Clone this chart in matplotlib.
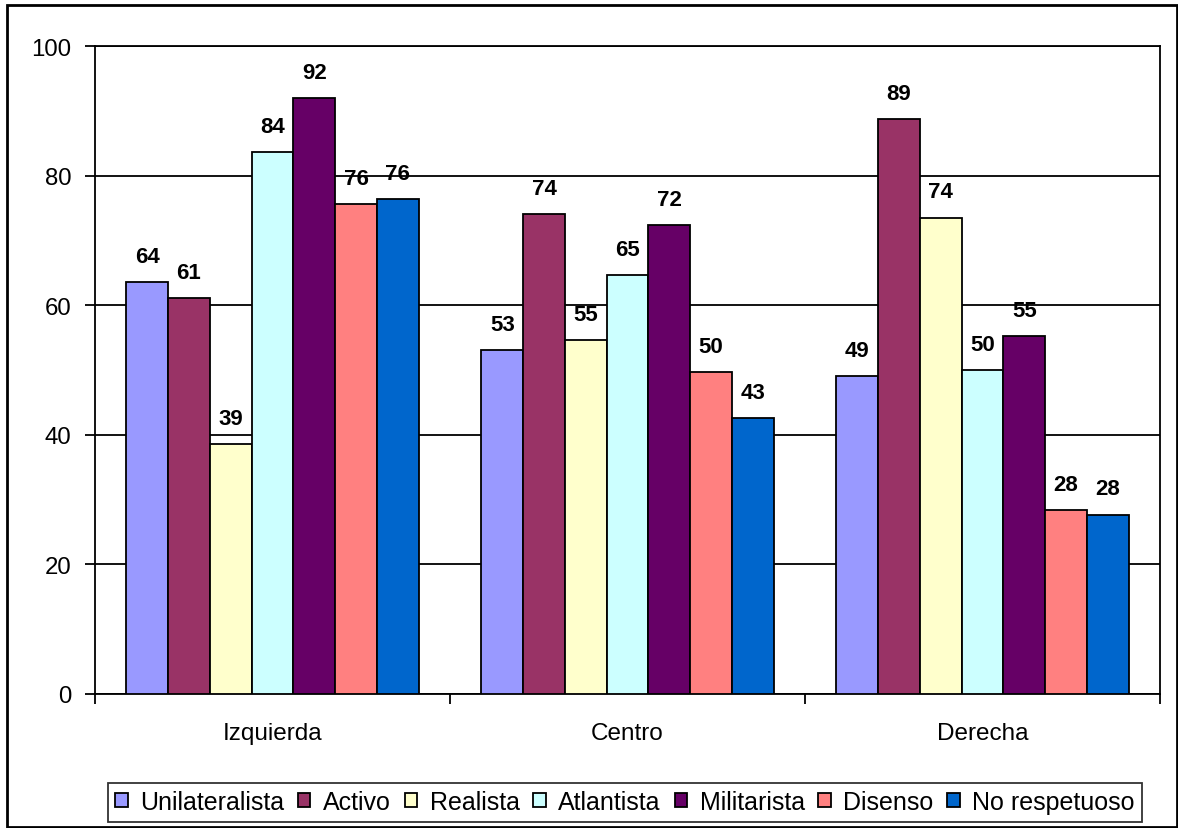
import matplotlib
matplotlib.use("Agg")
import matplotlib.pyplot as plt
import numpy as np
from matplotlib.patches import Rectangle

plt.rcParams['font.family'] = ['Liberation Sans', 'DejaVu Sans']

# Datos
categorias = ["Izquierda", "Centro", "Derecha"]
series = ["Unilateralista", "Activo", "Realista", "Atlantista",
          "Militarista", "Disenso", "No respetuoso"]
unilateralista = [63.6, 53.1, 49.0]
activo = [61.1, 74.1, 88.7]
realista = [38.6, 54.6, 73.5]
atlantista = [83.6, 64.6, 50.0]
militarista = [91.9, 72.4, 55.2]
disenso = [75.6, 49.7, 28.4]
no_respetuoso = [76.4, 42.6, 27.7]
valores = [unilateralista, activo, realista, atlantista,
           militarista, disenso, no_respetuoso]
colores = ["#9999FF", "#993366", "#FFFFCC", "#CCFFFF",
           "#660066", "#FF8080", "#0066CC"]

fig = plt.figure(figsize=(11.78, 8.29), dpi=100)
ax = fig.add_axes([95 / 1178, 1 - 695 / 829, (1160 - 95) / 1178, (695 - 47) / 829])

x = np.arange(len(categorias))
ancho = 1 / 8.5  # gap width 150%
for i, (nombre, vals, col) in enumerate(zip(series, valores, colores)):
    pos = x + (i - 3) * ancho
    ax.bar(pos, vals, width=ancho, color=col, edgecolor="black",
           linewidth=1.3, label=nombre, zorder=3)
    for xp, v in zip(pos, vals):
        ax.annotate(f"{v:.0f}", (xp, v), xytext=(0, 11), textcoords="offset points",
                    ha="center", va="bottom", fontsize=16, fontweight="bold")

ax.set_xlim(-0.5, 2.5)
ax.set_ylim(0, 100)
ax.set_yticks(range(0, 101, 20))
ax.yaxis.grid(True, color="black", linewidth=1.3, zorder=0)
ax.set_axisbelow(True)
ax.set_xticks(x)
ax.set_xticklabels(categorias)
ax.set_xticks([-0.5, 0.5, 1.5, 2.5], minor=True)
ax.tick_params(axis="x", which="major", length=0, pad=20, labelsize=17.5)
ax.tick_params(axis="x", which="minor", length=7, width=1.3, direction="out")
ax.tick_params(axis="y", length=7, width=1.3, direction="out", pad=10, labelsize=17.3)
for s in ax.spines.values():
    s.set_linewidth(1.3)

leg = ax.legend(loc="center", bbox_to_anchor=(625 / 1178, 26 / 829),
                bbox_transform=fig.transFigure, ncol=7, fontsize=18,
                frameon=True, fancybox=False, edgecolor="black",
                handlelength=0.5, handleheight=0.5, handletextpad=0.5,
                columnspacing=0.55, borderpad=0.3, borderaxespad=0)
leg.get_frame().set_linewidth(1.3)

fig.patches.append(Rectangle((7 / 1178, 1 / 829), 1170 / 1178, 822 / 829,
                             transform=fig.transFigure, fill=False,
                             edgecolor="black", linewidth=2))

fig.savefig("out.png", dpi=100)
